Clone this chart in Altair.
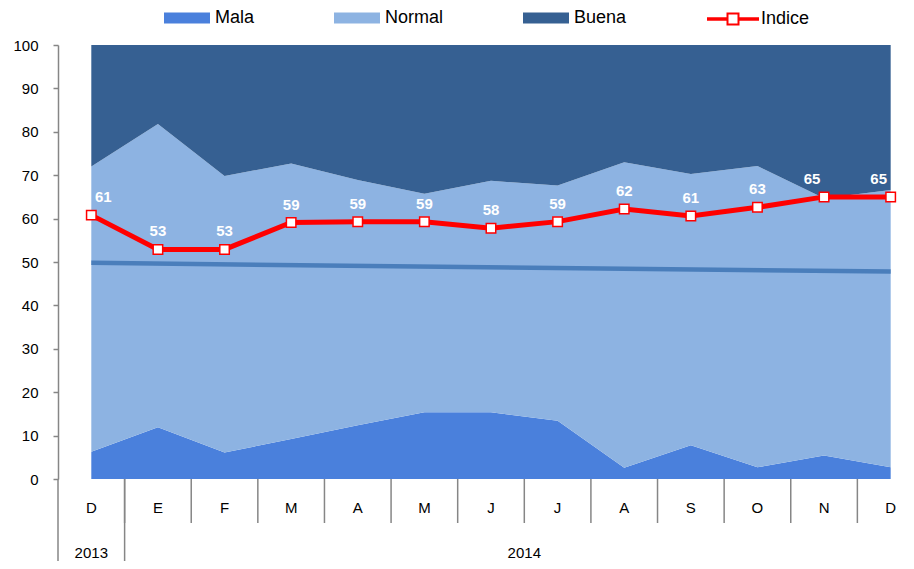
import altair as alt
import pandas as pd

# ---------------- data ----------------
months = ["D", "E", "F", "M", "A", "M", "J", "J", "A", "S", "O", "N", "D"]
years = ["2013", "2014"]
year_first = [0, 1]      # first month index of each year
year_last = [0, 12]      # last month index of each year

series = ["Mala", "Normal", "Buena"]
mala = [6.3, 11.9, 6.1, 9.2, 12.4, 15.4, 15.4, 13.4, 2.6, 7.8, 2.7, 5.4, 2.7]
normal = [65.7, 69.9, 63.7, 63.5, 56.5, 50.3, 53.3, 54.2, 70.4, 62.5, 69.4, 59.3, 63.9]
buena = [28.0, 18.2, 30.2, 27.3, 31.1, 34.3, 31.3, 32.4, 27.0, 29.7, 27.9, 35.3, 33.4]
indice = [60.8, 52.9, 52.9, 59.1, 59.3, 59.3, 57.8, 59.3, 62.2, 60.6, 62.6, 65.0, 65.0]
trend = [49.8, 47.8]     # trend line at first and last month

colors = ["#4A80DC", "#8DB3E2", "#366092"]
FONT = "Liberation Sans"

# ---------------- tables ----------------
n = len(months)
rows = []
for k, (name, vals) in enumerate(zip(series, [mala, normal, buena])):
    for i, v in enumerate(vals):
        rows.append({"i": i, "serie": name, "value": v, "ord": k})
area_df = pd.DataFrame(rows)
ind_df = pd.DataFrame({"i": list(range(n)), "value": indice, "serie": "Indice"})
trend_df = pd.DataFrame({"i": [0, n - 1], "value": trend})
month_df = pd.DataFrame({"i": list(range(n)), "m": months})
sep_df = pd.DataFrame({"pos": [i + 0.5 for i in range(n - 1)]})
year_df = pd.DataFrame({"y": years,
                        "c": [(a + b) / 2 for a, b in zip(year_first, year_last)]})
ysep_df = pd.DataFrame({"pos": [-0.5] + [f - 0.5 for f in year_first[1:]]})

W, H = 846, 434
xscale = alt.Scale(domain=[-0.5, 12.2], nice=False, zero=False)
yscale = alt.Scale(domain=[0, 100], nice=False)
X = alt.X("i:Q", scale=xscale, axis=None)
Y = alt.Y("value:Q", scale=yscale)

areas = alt.Chart(area_df).mark_area(opacity=1, interpolate="linear").encode(
    x=alt.X("i:Q", scale=xscale,
            axis=alt.Axis(labels=False, ticks=False, title=None, grid=False,
                          domainColor="#868686", domainWidth=1.5)),
    y=alt.Y("value:Q", stack="zero", scale=yscale,
            axis=alt.Axis(values=list(range(0, 101, 10)), title=None, grid=False,
                          tickSize=5, labelPadding=15, labelFontSize=15,
                          labelFont=FONT, labelColor="#000000",
                          domainColor="#868686", tickColor="#868686",
                          domainWidth=1.5, tickWidth=1.5)),
    color=alt.Color("serie:N", sort=series,
                    scale=alt.Scale(domain=series, range=colors),
                    legend=alt.Legend(orient="none", legendX=106, legendY=-50,
                                      direction="horizontal", title=None,
                                      symbolType="M-1,-0.24H1V0.24H-1Z",
                                      symbolSize=2116, symbolStrokeWidth=0,
                                      labelFontSize=18, labelFont=FONT,
                                      labelColor="#000000", labelOffset=5,
                                      columnPadding=79, padding=0)),
    order=alt.Order("ord:Q"),
)

trend_line = alt.Chart(trend_df).mark_line(color="#4A7EBB", strokeWidth=4.5).encode(
    x=X, y=Y)

ind_line = alt.Chart(ind_df).mark_line(strokeWidth=5).encode(
    x=X, y=Y,
    stroke=alt.Stroke("serie:N", scale=alt.Scale(domain=["Indice"], range=["#FF0000"]),
                      legend=alt.Legend(orient="none", legendX=649, legendY=-52,
                                        title=None, padding=0,
                                        symbolType="M-1,-0.03H-0.22V0.03H-1Z M0.22,-0.03H1V0.03H0.22Z M-0.22,-0.22H0.22V0.22H-0.22Z",
                                        symbolSize=2500, symbolFillColor="#FFFFFF",
                                        symbolStrokeColor="#FF0000",
                                        symbolStrokeWidth=2,
                                        labelFontSize=18, labelFont=FONT,
                                        labelColor="#000000", labelOffset=2)),
)

ind_pts = alt.Chart(ind_df).mark_point(shape="square", filled=True, fill="#FFFFFF",
                                       stroke="#FF0000", strokeWidth=1.5,
                                       size=90, opacity=1).encode(x=X, y=Y)

txt_base = alt.Chart(ind_df)
txt_kw = dict(fontSize=15, fontWeight="bold", font=FONT, color="#FFFFFF", dy=-18)
txt_enc = dict(x=X, y=Y, text=alt.Text("value:Q", format=".0f"))
txt_first = txt_base.transform_filter("datum.i == 0").mark_text(dx=12, **txt_kw).encode(**txt_enc)
txt_mid = txt_base.transform_filter(f"datum.i > 0 && datum.i < {n - 2}").mark_text(**txt_kw).encode(**txt_enc)
txt_end = txt_base.transform_filter(f"datum.i >= {n - 2}").mark_text(dx=-12, **txt_kw).encode(**txt_enc)

seps = alt.Chart(sep_df).mark_rule(color="#868686", strokeWidth=1.5).encode(
    x=alt.X("pos:Q", scale=xscale, axis=None),
    y=alt.value(H), y2=alt.value(H + 44))

yseps = alt.Chart(ysep_df).mark_rule(color="#868686", strokeWidth=1.5).encode(
    x=alt.X("pos:Q", scale=xscale, axis=None),
    y=alt.value(H), y2=alt.value(H + 82))

mlabels = alt.Chart(month_df).mark_text(fontSize=15, font=FONT, color="#000000",
                                        baseline="middle").encode(
    x=X, y=alt.value(H + 29), text="m:N")

ylabels = alt.Chart(year_df).mark_text(fontSize=15, font=FONT, color="#000000",
                                       baseline="middle").encode(
    x=alt.X("c:Q", scale=xscale, axis=None), y=alt.value(H + 74), text="y:N")

chart = alt.layer(areas, trend_line, ind_line, ind_pts, txt_first, txt_mid, txt_end,
                  seps, yseps, mlabels, ylabels).resolve_scale(
    color="independent", stroke="independent"
).properties(
    width=W, height=H,
    autosize=alt.AutoSizeParams(type="none"),
    padding={"left": 50, "top": 37, "right": 0, "bottom": 82},
    background="#FFFFFF",
).configure_view(strokeWidth=0)

chart.save("out.html", embed_options={"renderer": "svg", "actions": False})
